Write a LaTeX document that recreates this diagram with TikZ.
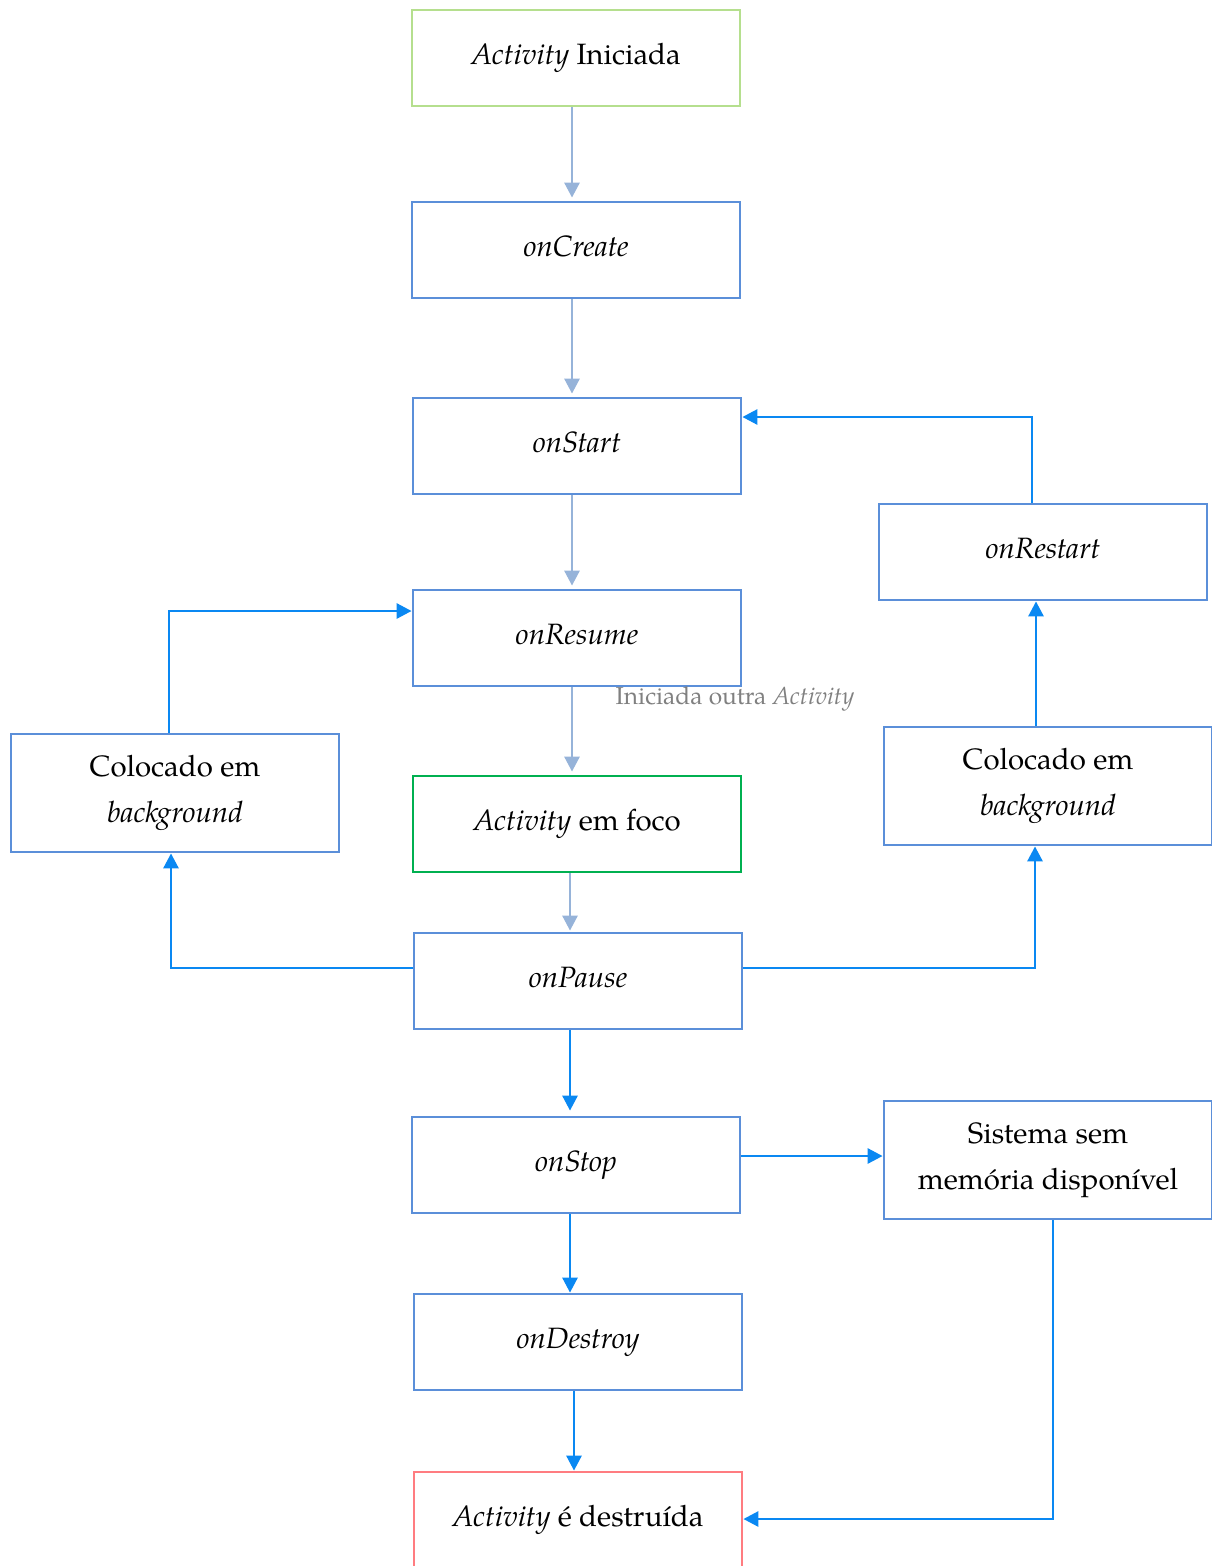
\documentclass[tikz,border=0pt]{standalone}
\usepackage{fontspec}
\setmainfont{TeX Gyre Pagella}
\usetikzlibrary{arrows.meta}
\definecolor{boxblue}{HTML}{5B8FD9}
\definecolor{palegreen}{HTML}{B5DF8E}
\definecolor{focusgreen}{HTML}{00B050}
\definecolor{salmon}{HTML}{FF7C80}
\definecolor{softarrow}{HTML}{96B3D9}
\definecolor{brightarrow}{HTML}{0A88F2}
\definecolor{notegray}{HTML}{808080}
\newcommand{\fulldepth}{\vphantom{y}}

\begin{document}
\begin{tikzpicture}[x=1pt,y=-1pt,
  box/.style={draw=boxblue, line width=2.8pt, minimum width=328pt, minimum height=96pt,
    align=center, inner sep=0pt, font=\fontsize{29.4}{46}\selectfont},
  tallbox/.style={box, minimum height=118pt},
  soft/.style={draw=softarrow, line width=2.8pt, -{Triangle[length=15pt,width=15pt]}, shorten >=3pt},
  bright/.style={draw=brightarrow, line width=2.8pt, -{Triangle[length=15pt,width=15pt]}}]
\useasboundingbox (0,0) rectangle (1212,1566);

% lifecycle column
\node[box, draw=palegreen] (start) at (576,58) {\textit{Activity} Iniciada};
\node[box] (oncreate) at (576,250) {\textit{onCreate}\fulldepth};
\node[box] (onstart) at (577,446) {\textit{onStart}\fulldepth};
\node[box] (onresume) at (577,638) {\textit{onResume}\fulldepth};
\node[box, draw=focusgreen] (focus) at (577,824) {\textit{Activity} em foco};
\node[box] (onpause) at (578,981) {\textit{onPause}\fulldepth};
\node[box] (onstop) at (576,1165) {\textit{onStop}};
\node[box] (ondestroy) at (578,1342) {\textit{onDestroy}};
\node[box, draw=salmon] (destroyed) at (578,1520) {\textit{Activity} é destruída};

% side states
\node[box] (onrestart) at (1043,552) {\textit{onRestart}\fulldepth};
\node[tallbox] (rbg) at (1048,786) {Colocado em\\\textit{background}};
\node[tallbox] (lbg) at (175,793) {Colocado em\\\textit{background}};
\node[tallbox] (sistema) at (1048,1160) {Sistema sem\\memória disponível};

\node[text=notegray, font=\fontsize{24.5}{28}\selectfont] (note) at (735,699) {Iniciada outra \textit{Activity}};

% main flow
\draw[soft] (start.south -| 572,0) -- (oncreate.north -| 572,0);
\draw[soft] (oncreate.south -| 572,0) -- (onstart.north -| 572,0);
\draw[soft] (onstart.south -| 572,0) -- (onresume.north -| 572,0);
\draw[soft] (onresume.south -| 572,0) -- (focus.north -| 572,0);
\draw[soft, shorten >=1pt] (focus.south -| 570,0) -- (onpause.north -| 570,0);
\draw[bright, shorten >=5pt] (onpause.south -| 570,0) -- (onstop.north -| 570,0);
\draw[bright] (onstop.south -| 570,0) -- (ondestroy.north -| 570,0);
\draw[bright] (ondestroy.south -| 574,0) -- (destroyed.north -| 574,0);

% background / restart loops
\draw[bright] (onpause.west |- 0,968) -| (lbg.south -| 171,0);
\draw[bright] (lbg.north -| 169,0) |- (onresume.west |- 0,611);
\draw[bright] (onpause.east |- 0,968) -| (rbg.south -| 1035,0);
\draw[bright] (rbg.north -| 1036,0) -- (onrestart.south -| 1036,0);
\draw[bright] (onrestart.north -| 1032,0) |- (onstart.east |- 0,417);

% low-memory path
\draw[bright] (onstop.east |- 0,1156) -- (sistema.west |- 0,1156);
\draw[bright] (sistema.south -| 1053,0) |- (destroyed.east |- 0,1519);
\end{tikzpicture}
\end{document}
